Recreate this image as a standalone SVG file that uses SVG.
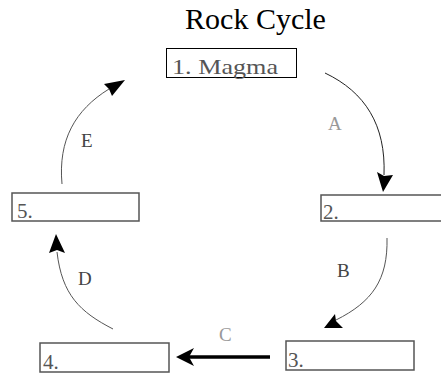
<svg xmlns="http://www.w3.org/2000/svg" width="441" height="373" viewBox="0 0 441 373">
<style>
.box{fill:#fff;stroke:#555;stroke-width:1.5}
.num{font-family:"Liberation Serif",serif;font-size:21px;fill:#555}
.lbl{font-family:"Liberation Serif",serif;font-size:19px;fill:#444}
.light{fill:#999}
.curve{fill:none;stroke:#555;stroke-width:1}
.head{fill:#000}
</style>
<rect width="441" height="373" fill="#fff"/>
<text x="255.5" y="29" text-anchor="middle" font-family="Liberation Serif, serif" font-size="30" fill="#000">Rock Cycle</text>
<g id="connectors">
  <path class="curve" d="M325,73 C365,92 386,125 384,175" style="stroke:#222"/>
  <polygon class="head" points="383,192 377,172 384,176 393,175"/>
  <text class="lbl light" x="328" y="130">A</text>
  <path class="curve" d="M387,238 C388,280 372,302 336,320"/>
  <polygon class="head" points="324,328 335,314 336,321 343,328"/>
  <text class="lbl" x="337" y="277">B</text>
  <line x1="270" y1="357" x2="188" y2="357" stroke="#000" stroke-width="3.5"/>
  <polygon class="head" points="176,357 194,348 189,357 194,366"/>
  <text class="lbl light" x="219" y="341">C</text>
  <path class="curve" d="M113,329 C80,312 62,295 57,252"/>
  <polygon class="head" points="56,234 65,253 57,250 49,253"/>
  <text class="lbl" x="78" y="285">D</text>
  <path class="curve" d="M62,184 C58,140 75,110 109,89"/>
  <polygon class="head" points="125,80 112,96 109,89 104,84"/>
  <text class="lbl" x="81" y="147">E</text>
</g>
<g id="n1">
  <rect x="166.5" y="48.5" width="130" height="29" fill="#fff" stroke="#000" stroke-width="1"/>
  <text class="num" x="172" y="74" textLength="106" lengthAdjust="spacingAndGlyphs">1.  Magma</text>
</g>
<g id="n2">
  <rect class="box" x="321" y="195" width="128" height="26"/>
  <text class="num" x="323" y="219">2.</text>
</g>
<g id="n3">
  <rect class="box" x="286" y="341" width="128" height="29"/>
  <text class="num" x="288" y="367">3.</text>
</g>
<g id="n4">
  <rect class="box" x="40" y="343" width="129" height="29"/>
  <text class="num" x="43" y="369">4.</text>
</g>
<g id="n5">
  <rect class="box" x="12" y="193" width="127" height="28"/>
  <text class="num" x="17" y="218">5.</text>
</g>
</svg>
